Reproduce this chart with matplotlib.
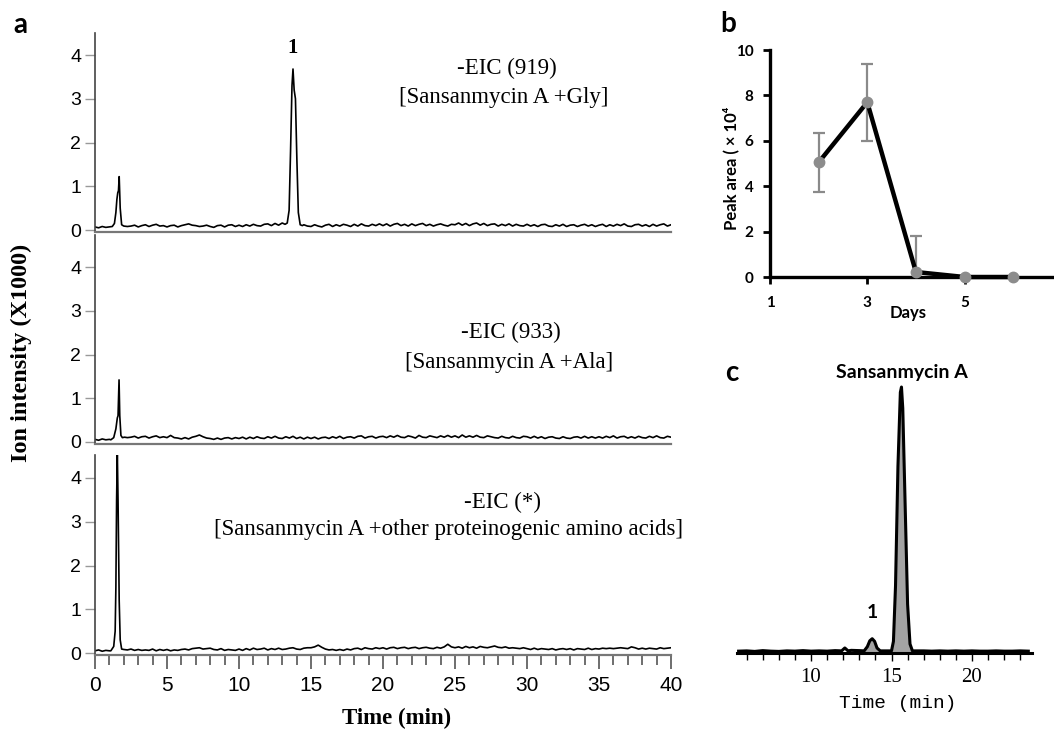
import numpy as np
import matplotlib
matplotlib.use("Agg")
import matplotlib.pyplot as plt
from matplotlib.ticker import MultipleLocator, FixedLocator

# ---------------- data ----------------
# panel a: sampled baselines (every 0.25 min, 0..40) and peaks (time, intensity x1000)
a_step = 0.25
a1_base = [0.07,0.05,0.08,0.06,0.07,0.08,0.09,0.08,0.10,0.08,0.09,0.11,0.07,0.10,0.12,0.08,0.11,0.13,0.09,0.10,
           0.07,0.10,0.11,0.07,0.10,0.12,0.14,0.11,0.10,0.08,0.09,0.11,0.08,0.06,0.10,0.11,0.07,0.11,0.12,0.08,
           0.11,0.08,0.12,0.09,0.13,0.10,0.09,0.13,0.14,0.10,0.15,0.11,0.16,0.12,0.15,0.12,0.10,0.08,0.12,0.09,
           0.08,0.12,0.09,0.07,0.11,0.13,0.08,0.12,0.09,0.13,0.11,0.08,0.13,0.09,0.14,0.10,0.09,0.13,0.10,0.14,
           0.10,0.14,0.09,0.13,0.15,0.10,0.13,0.09,0.14,0.10,0.13,0.15,0.10,0.13,0.09,0.12,0.14,0.11,0.09,0.13,
           0.12,0.16,0.11,0.15,0.10,0.14,0.16,0.11,0.15,0.10,0.13,0.14,0.09,0.13,0.10,0.14,0.09,0.13,0.10,0.09,
           0.13,0.09,0.12,0.08,0.12,0.13,0.09,0.08,0.12,0.09,0.13,0.08,0.11,0.12,0.08,0.11,0.13,0.09,0.12,0.08,
           0.11,0.13,0.08,0.12,0.09,0.13,0.10,0.14,0.09,0.08,0.12,0.13,0.09,0.12,0.08,0.13,0.09,0.12,0.14,0.09,0.12]
a1_peak_front_t = [1.2,1.35,1.45,1.52,1.58,1.63,1.68,1.75,1.85,2.0]
a1_peak_front_v = [0.08,0.15,0.4,0.7,0.85,0.9,1.22,0.5,0.12,0.09]
a1_peak_1_t = [13.2,13.35,13.48,13.58,13.68,13.75,13.83,13.92,14.02,14.12,14.25,14.4]
a1_peak_1_v = [0.13,0.16,0.45,1.8,3.3,3.68,3.2,3.0,1.6,0.4,0.12,0.10]

a2_base = [0.06,0.04,0.07,0.05,0.06,0.06,0.08,0.10,0.12,0.10,0.11,0.13,0.09,0.12,0.13,0.09,0.12,0.14,0.10,0.12,
           0.10,0.15,0.10,0.09,0.07,0.10,0.07,0.11,0.13,0.16,0.12,0.09,0.08,0.06,0.09,0.06,0.09,0.10,0.07,0.10,
           0.08,0.11,0.07,0.11,0.08,0.12,0.09,0.08,0.12,0.09,0.13,0.09,0.08,0.12,0.09,0.13,0.08,0.11,0.07,0.11,
           0.08,0.11,0.07,0.10,0.11,0.08,0.12,0.09,0.13,0.08,0.11,0.12,0.09,0.13,0.14,0.09,0.12,0.13,0.09,0.12,
           0.13,0.10,0.14,0.11,0.15,0.11,0.10,0.14,0.12,0.09,0.15,0.11,0.10,0.14,0.12,0.10,0.14,0.11,0.15,0.11,
           0.14,0.10,0.16,0.11,0.14,0.11,0.15,0.11,0.10,0.14,0.12,0.10,0.09,0.13,0.10,0.09,0.13,0.10,0.09,0.13,
           0.12,0.09,0.13,0.09,0.12,0.08,0.11,0.12,0.09,0.08,0.12,0.09,0.08,0.11,0.12,0.09,0.13,0.09,0.12,0.09,
           0.12,0.09,0.13,0.10,0.14,0.09,0.12,0.13,0.09,0.12,0.09,0.13,0.10,0.09,0.13,0.10,0.14,0.10,0.09,0.13,0.11]
a2_peak_t = [1.1,1.3,1.45,1.55,1.6,1.67,1.72,1.8,1.9,2.05]
a2_peak_v = [0.05,0.1,0.3,0.55,0.6,1.42,0.6,0.15,0.1,0.11]

a3_base = [0.05,0.07,0.04,0.06,0.05,0.05,0.06,0.08,0.08,0.07,0.09,0.06,0.08,0.06,0.07,0.06,0.09,0.05,0.08,0.06,
           0.08,0.05,0.07,0.06,0.08,0.09,0.07,0.10,0.11,0.12,0.09,0.10,0.11,0.08,0.07,0.10,0.06,0.08,0.07,0.06,
           0.09,0.06,0.10,0.07,0.11,0.08,0.09,0.11,0.07,0.10,0.08,0.11,0.08,0.09,0.11,0.12,0.09,0.08,0.11,0.12,
           0.12,0.14,0.18,0.13,0.09,0.07,0.08,0.06,0.08,0.06,0.09,0.07,0.10,0.11,0.08,0.12,0.10,0.09,0.12,0.10,
           0.12,0.09,0.12,0.13,0.10,0.12,0.13,0.10,0.12,0.13,0.10,0.12,0.13,0.11,0.10,0.13,0.11,0.14,0.20,0.14,
           0.12,0.14,0.11,0.15,0.12,0.14,0.11,0.15,0.13,0.12,0.14,0.16,0.13,0.12,0.14,0.11,0.12,0.11,0.10,0.12,
           0.10,0.08,0.11,0.08,0.10,0.09,0.08,0.10,0.07,0.09,0.10,0.08,0.10,0.07,0.10,0.09,0.08,0.11,0.08,0.10,
           0.09,0.11,0.10,0.11,0.10,0.11,0.12,0.11,0.10,0.14,0.12,0.09,0.11,0.09,0.11,0.10,0.09,0.12,0.10,0.11,0.12]
a3_peak_t = [1.1,1.3,1.4,1.45,1.5,1.55,1.6,1.68,1.75,1.85,2.0]
a3_peak_v = [0.05,0.15,0.5,1.5,3.5,4.6,3.5,1.2,0.3,0.09,0.08]

a_titles = [("-EIC (919)", "[Sansanmycin A +Gly]"),
            ("-EIC (933)", "[Sansanmycin A +Ala]"),
            ("-EIC (*)", "[Sansanmycin A +other proteinogenic amino acids]")]
a_yticks = [0, 1, 2, 3, 4]
a_xticks = [0, 5, 10, 15, 20, 25, 30, 35, 40]

# panel b
b_days = [2, 3, 4, 5, 6]
b_area = [5.05, 7.7, 0.22, 0.0, 0.0]
b_err = [1.3, 1.7, 1.57, 0.0, 0.0]
b_xticks = [1, 3, 5]
b_yticks = [0, 2, 4, 6, 8, 10]

# panel c (relative intensity)
c_step = 0.5
c_start = 5.5
c_base = [0.3,0.4,0.2,0.5,0.3,0.2,0.4,0.3,0.5,0.3,0.4,0.3,0.5,0.4,0.6,0.5,0.4,0.5,0.4,0.4,
          0.4,0.5,0.4,0.4,0.3,0.4,0.3,0.4,0.3,0.4,0.3,0.3,0.4,0.3,0.3,0.4,0.3]
c_bump_t = [11.9, 12.1, 12.3]
c_bump_v = [0.4, 1.5, 0.4]
c_peak1_t = [13.3,13.5,13.65,13.8,13.95,14.1,14.3]
c_peak1_v = [0.4,2.0,4.2,5.0,4.0,1.5,0.4]
c_main_t = [15.0,15.12,15.25,15.4,15.55,15.62,15.7,15.85,16.0,16.15,16.3]
c_main_v = [0.4,4,25,70,98,100,92,55,18,3,0.4]
c_xticks = [10, 15, 20]

# ---------------- helpers ----------------
W, H = 1054, 730
fig = plt.figure(figsize=(W / 100, H / 100), dpi=100)

def ax_px(l, t, r, b):
    return fig.add_axes([l / W, 1 - b / H, (r - l) / W, (b - t) / H])

def ftext(x, y, s, **kw):
    kw.setdefault("ha", "center")
    kw.setdefault("va", "center")
    return fig.text(x / W, 1 - y / H, s, **kw)

def merge(base_t, base_v, peaks):
    t = np.asarray(base_t, float)
    v = np.asarray(base_v, float)
    keep = np.ones(len(t), bool)
    for pt, pv in peaks:
        keep &= ~((t >= pt[0]) & (t <= pt[-1]))
    T = np.concatenate([t[keep]] + [np.asarray(p[0], float) for p in peaks])
    V = np.concatenate([v[keep]] + [np.asarray(p[1], float) for p in peaks])
    o = np.argsort(T)
    return T[o], V[o]

SERIF = "Liberation Serif"
SANS = "Liberation Sans"
CAL = ["Lato", "DejaVu Sans"]

# ---------------- panel a ----------------
a_t = np.arange(len(a1_base)) * a_step
traces = [merge(a_t, a1_base, [(a1_peak_front_t, a1_peak_front_v), (a1_peak_1_t, a1_peak_1_v)]),
          merge(a_t, a2_base, [(a2_peak_t, a2_peak_v)]),
          merge(a_t, a3_base, [(a3_peak_t, a3_peak_v)])]
ppu = 43.75
zero_px = [230, 442, 653]
ytops = [4.5, 4.73, 4.53]
ybot = -0.05
title_pos = [((507, 68), (504, 98)), ((511, 332), (509, 362)), ((502, 502), (449, 529))]

for i in range(3):
    top = zero_px[i] - ytops[i] * ppu
    bot = zero_px[i] - ybot * ppu
    ax = ax_px(95, top, 671, bot)
    T, V = traces[i]
    ax.plot(T, V, color="black", lw=1.2)
    ax.set_xlim(0, 40)
    ax.set_ylim(ybot, ytops[i])
    for s in ("top", "right"):
        ax.spines[s].set_visible(False)
    ax.spines["left"].set_color("#444444")
    ax.spines["left"].set_linewidth(1.2)
    ax.spines["bottom"].set_color("#777777")
    ax.spines["bottom"].set_linewidth(1.6)
    ax.set_yticks(a_yticks)
    ax.tick_params(axis="y", direction="out", length=7, width=1, color="#999999",
                   labelsize=14, pad=3)
    for lab in ax.get_yticklabels():
        lab.set_fontfamily(SANS)
    if i < 2:
        ax.set_xticks([])
    else:
        ax.xaxis.set_major_locator(FixedLocator(a_xticks))
        ax.xaxis.set_minor_locator(MultipleLocator(1))
        ax.tick_params(axis="x", which="major", direction="out", length=10, width=1.2,
                       color="#555555", labelsize=15, pad=5)
        ax.tick_params(axis="x", which="minor", direction="out", length=7, width=1.2,
                       color="#555555")
        for lab in ax.get_xticklabels():
            lab.set_fontfamily(SANS)
    (t1, p1), (t2, p2) = title_pos[i]
    ftext(t1, p1, a_titles[i][0], family=SERIF, fontsize=16.5)
    ftext(t2, p2, a_titles[i][1], family=SERIF, fontsize=16.5)
    if i == 0:
        ax.text(13.75, 4.16, "1", family=SERIF, fontsize=15, fontweight="bold",
                ha="center", va="center")

ftext(21, 353, "Ion intensity (X1000)", family=SERIF, fontsize=17.5, fontweight="bold",
      rotation=90)
ftext(397, 718, "Time (min)", family=SERIF, fontsize=16.5, fontweight="bold")
ftext(20, 25, "a", family=CAL, fontsize=20, fontweight="bold")

# ---------------- panel b ----------------
axb = ax_px(770, 50, 1054, 277)
axb.errorbar(b_days, b_area, yerr=b_err, fmt="none", ecolor="#8a8a8a", elinewidth=1.6,
             capsize=4, capthick=1.6, zorder=2)
axb.plot(b_days, b_area, color="black", lw=3.2, zorder=3, clip_on=False)
axb.plot(b_days, b_area, "o", color="#8c8c8c", markersize=7.5, zorder=4, clip_on=False)
axb.set_xlim(1, 6.84)
axb.set_ylim(0, 10)
for s in ("top", "right"):
    axb.spines[s].set_visible(False)
for s in ("left", "bottom"):
    axb.spines[s].set_linewidth(2.4)
    axb.spines[s].set_color("black")
axb.set_xticks(b_xticks)
axb.set_yticks(b_yticks)
axb.tick_params(axis="y", direction="out", length=5, width=2, labelsize=11, pad=7)
axb.tick_params(axis="x", direction="out", length=5, width=2, labelsize=11, pad=9)
for lab in axb.get_xticklabels() + axb.get_yticklabels():
    lab.set_fontfamily(CAL)
    lab.set_fontweight("bold")
ftext(731, 168, "Peak area ( \u00d7 10\u2074", family=CAL, fontsize=12, fontweight="bold",
      rotation=90)
ftext(908, 313, "Days", family=CAL, fontsize=12, fontweight="bold")
ftext(728, 24, "b", family=CAL, fontsize=20, fontweight="bold")

# ---------------- panel c ----------------
c_t = c_start + np.arange(len(c_base)) * c_step
cT, cV = merge(c_t, c_base, [(c_bump_t, c_bump_v), (c_peak1_t, c_peak1_v), (c_main_t, c_main_v)])
axc = ax_px(737, 360, 1032, 653)
for pt in (c_peak1_t, c_main_t):
    m = (cT >= pt[0]) & (cT <= pt[-1])
    axc.fill_between(cT[m], 0, cV[m], color="#a3a3a3", lw=0)
axc.plot(cT, cV, color="black", lw=2.2)
axc.set_xlim(5.4, 23.73)
axc.set_ylim(-0.4, 110.2)
for s in ("top", "right", "left"):
    axc.spines[s].set_visible(False)
axc.spines["bottom"].set_linewidth(2.2)
axc.set_yticks([])
axc.xaxis.set_major_locator(FixedLocator(c_xticks))
axc.xaxis.set_minor_locator(MultipleLocator(1))
axc.tick_params(axis="x", which="major", direction="out", length=6, width=1, labelsize=15, pad=5)
axc.tick_params(axis="x", which="minor", direction="out", length=5, width=1)
for lab in axc.get_xticklabels():
    lab.set_fontfamily(SERIF)
ftext(898, 703, "Time (min)", family="Liberation Mono", fontsize=14)
ftext(902, 373, "Sansanmycin A", family=CAL, fontsize=14, fontweight="bold")
ftext(872, 612, "1", family=CAL, fontsize=14, fontweight="bold")
ftext(732, 373, "c", family=CAL, fontsize=20, fontweight="bold")

fig.savefig("out.png", dpi=100)
